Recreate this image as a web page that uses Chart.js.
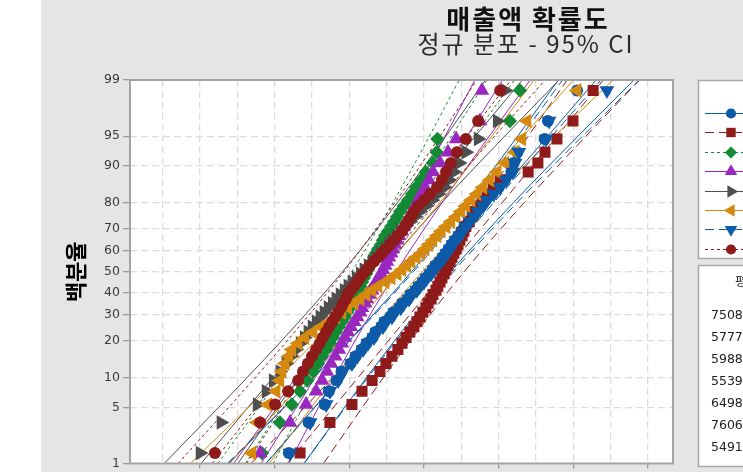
<!DOCTYPE html>
<html>
<head>
<meta charset="utf-8">
<script src="https://cdn.jsdelivr.net/npm/chart.js@4.4.1/dist/chart.umd.min.js"></script>
<style>
  html, body { margin: 0; padding: 0; background: #ffffff; }
  canvas { display: block; }
</style>
</head>
<body>
<canvas id="chart" width="743" height="472"></canvas>
<script>
// ---- data -------------------------------------------------------------
// Median-rank plotting positions (%) for 50 sorted observations
const plotPct = [1.39, 3.37, 5.36, 7.34, 9.33, 11.31, 13.29, 15.28, 17.26, 19.25,
  21.23, 23.21, 25.20, 27.18, 29.17, 31.15, 33.13, 35.12, 37.10, 39.09,
  41.07, 43.06, 45.04, 47.02, 49.01, 50.99, 52.98, 54.96, 56.94, 58.93,
  60.91, 62.90, 64.88, 66.87, 68.85, 70.83, 72.82, 74.80, 76.79, 78.77,
  80.75, 82.74, 84.72, 86.71, 88.69, 90.67, 92.66, 94.64, 96.63, 98.61];

// Sorted sales values for each of the eight groups
const group1 = [4380, 4910, 5340, 5450, 5660, 5790, 6030, 6170, 6330, 6460, 6620, 6700, 6860, 6940, 7100, 7180, 7340, 7420, 7560, 7640, 7770, 7850, 7960, 8040, 8150, 8230, 8310, 8420, 8500, 8580, 8660, 8740, 8820, 8920, 9000, 9080, 9190, 9300, 9410, 9540, 9650, 9830, 10000, 10160, 10340, 10400, 10500, 11230, 11320, 12100];
const group2 = [4680, 5480, 6070, 6340, 6610, 6820, 6980, 7140, 7300, 7410, 7520, 7620, 7730, 7810, 7890, 7970, 8050, 8110, 8190, 8240, 8320, 8370, 8430, 8480, 8540, 8590, 8640, 8700, 8750, 8800, 8860, 8910, 8960, 9020, 9070, 9120, 9210, 9290, 9370, 9450, 9550, 9690, 9850, 10040, 10790, 11050, 11240, 11560, 11990, 12530];
const group3 = [3660, 4140, 4460, 4680, 4870, 5030, 5160, 5270, 5380, 5480, 5560, 5640, 5720, 5800, 5880, 5940, 6020, 6070, 6130, 6180, 6230, 6290, 6340, 6390, 6450, 6500, 6550, 6610, 6660, 6710, 6770, 6850, 6900, 6960, 7040, 7120, 7200, 7280, 7360, 7460, 7570, 7680, 7790, 7920, 8050, 8240, 8340, 8360, 10300, 10570];
const group4 = [3610, 4410, 4840, 5110, 5270, 5400, 5510, 5620, 5720, 5800, 5880, 5960, 6040, 6130, 6210, 6290, 6340, 6420, 6470, 6550, 6610, 6660, 6710, 6790, 6850, 6900, 6960, 7010, 7060, 7120, 7170, 7220, 7280, 7330, 7410, 7460, 7540, 7600, 7680, 7760, 7840, 7920, 8030, 8130, 8240, 8430, 8640, 8860, 9500, 9550];
const group5 = [2000, 2560, 3530, 3770, 3960, 4140, 4300, 4440, 4570, 4680, 4790, 4890, 5000, 5110, 5210, 5320, 5430, 5540, 5640, 5750, 5860, 5960, 6070, 6180, 6290, 6390, 6500, 6610, 6710, 6820, 6930, 7040, 7140, 7250, 7360, 7490, 7620, 7760, 7890, 8050, 8210, 8380, 8540, 8670, 8800, 8940, 9120, 9450, 9960, 10170];
const group6 = [3390, 3530, 3820, 4040, 4140, 4200, 4280, 4380, 4460, 4630, 4810, 5030, 5240, 5480, 5640, 5800, 5960, 6130, 6290, 6450, 6610, 6770, 6960, 7120, 7280, 7410, 7540, 7650, 7790, 7920, 8030, 8130, 8240, 8350, 8460, 8590, 8720, 8860, 8990, 9120, 9260, 9420, 9580, 9770, 9960, 10170, 10440, 10620, 10760, 12100];
const group7 = [4410, 4950, 5380, 5480, 5700, 5830, 6070, 6210, 6370, 6500, 6660, 6740, 6900, 6980, 7140, 7220, 7380, 7460, 7600, 7680, 7810, 7890, 8000, 8080, 8190, 8270, 8350, 8460, 8540, 8620, 8700, 8780, 8860, 8960, 9040, 9120, 9230, 9340, 9450, 9580, 9690, 9870, 10040, 10200, 10380, 10440, 10540, 11270, 11350, 12900];
const group8 = [2400, 3610, 4010, 4360, 4630, 4760, 4890, 5000, 5110, 5210, 5290, 5380, 5460, 5540, 5620, 5700, 5780, 5830, 5910, 5960, 6040, 6130, 6210, 6290, 6370, 6470, 6550, 6660, 6770, 6870, 6980, 7090, 7200, 7300, 7410, 7490, 7570, 7650, 7730, 7840, 8000, 8160, 8350, 8480, 8590, 8720, 8880, 9120, 9450, 10040];

// Fitted normal line: value at 1% and at 99%
const fitAt1 = [3771, 4337, 3217, 3637, 2027, 2795, 3761, 2329];
const fitAt99 = [12609, 12803, 9683, 10103, 10633, 12005, 12739, 10331];

// 95% confidence band, evaluated at these percents
const ciPct = [1, 5, 10, 20, 50, 80, 90, 95, 99];
const ciLow1 = [2758, 4257, 5044, 5978, 7664, 9178, 9915, 10508, 11597];
const ciHigh1 = [4783, 5872, 6465, 7202, 8716, 10402, 11336, 12123, 13622];
const ciLow2 = [3367, 4803, 5556, 6452, 8066, 9516, 10223, 10790, 11833];
const ciHigh2 = [5307, 6350, 6917, 7624, 9074, 10688, 11584, 12337, 13773];
const ciLow3 = [2476, 3573, 4148, 4832, 6065, 7173, 7712, 8146, 8942];
const ciHigh3 = [3958, 4754, 5188, 5727, 6835, 8068, 8752, 9327, 10424];
const ciLow4 = [2896, 3993, 4568, 5252, 6485, 7593, 8132, 8566, 9362];
const ciHigh4 = [4378, 5174, 5608, 6147, 7255, 8488, 9172, 9747, 10844];
const ciLow5 = [1041, 2500, 3266, 4177, 5818, 7292, 8010, 8587, 9647];
const ciHigh5 = [3013, 4073, 4650, 5368, 6842, 8483, 9394, 10160, 11619];
const ciLow6 = [1739, 3301, 4121, 5095, 6852, 8430, 9198, 9816, 10950];
const ciHigh6 = [3850, 4984, 5602, 6370, 7948, 9705, 10679, 11499, 13061];
const ciLow7 = [2732, 4255, 5054, 6003, 7715, 9254, 10002, 10605, 11710];
const ciHigh7 = [4790, 5895, 6498, 7246, 8785, 10497, 11446, 12245, 13768];
const ciLow8 = [1413, 2770, 3482, 4328, 5854, 7224, 7892, 8428, 9414];
const ciHigh8 = [3246, 4232, 4768, 5436, 6806, 8332, 9178, 9890, 11247];

// Axis ticks
const yTicks = [1, 5, 10, 20, 30, 40, 50, 60, 70, 80, 90, 95, 99];
const xGrid = [1000, 2000, 3000, 4000, 5000, 6000, 7000, 8000, 9000, 10000, 11000, 12000, 13000, 14000];

// Summary table column (mean)
const tableHeader = '평균';
const tableMeans = ['7508', '5777', '5988', '5539', '6498', '7606', '5491'];

const titleText = '매출액 확률도';
const subtitleText = '정규 분포 - 95% CI';
const yTitleText = '백분율';

// ---- styles -------------------------------------------------------------
const BLUE = '#0d5aa8', RED = '#8e1a1a', GREEN = '#138a34', PURPLE = '#9a27bf',
      GRAY = '#4f4f4f', ORANGE = '#d68a0d';
const LONG = [9, 5], SHORT = [3, 3];
const groupStyle = [
  { color: BLUE,   pointStyle: 'circle',   rotation: 0,   radius: 6,   dash: [] },
  { color: RED,    pointStyle: 'rect',     rotation: 0,   radius: 7.8, dash: LONG },
  { color: GREEN,  pointStyle: 'rectRot',  rotation: 0,   radius: 7.2, dash: SHORT },
  { color: PURPLE, pointStyle: 'triangle', rotation: 0,   radius: 8.5, dash: [] },
  { color: GRAY,   pointStyle: 'triangle', rotation: 90,  radius: 8.5, dash: [] },
  { color: ORANGE, pointStyle: 'triangle', rotation: 270, radius: 8.5, dash: [] },
  { color: BLUE,   pointStyle: 'triangle', rotation: 180, radius: 8.5, dash: LONG },
  { color: RED,    pointStyle: 'circle',   rotation: 0,   radius: 6,   dash: SHORT }
];
const groups = [group1, group2, group3, group4, group5, group6, group7, group8];
const ciLows = [ciLow1, ciLow2, ciLow3, ciLow4, ciLow5, ciLow6, ciLow7, ciLow8];
const ciHighs = [ciHigh1, ciHigh2, ciHigh3, ciHigh4, ciHigh5, ciHigh6, ciHigh7, ciHigh8];

// ---- normal-probability scale ------------------------------------------
function probit(p) {
  const a = [-3.969683028665376e+01, 2.209460984245205e+02, -2.759285104469687e+02,
             1.383577518672690e+02, -3.066479806614716e+01, 2.506628277459239e+00];
  const b = [-5.447609879822406e+01, 1.615858368580409e+02, -1.556989798598866e+02,
             6.680131188771972e+01, -1.328068155288572e+01];
  const c = [-7.784894002430293e-03, -3.223964580411365e-01, -2.400758277161838e+00,
             -2.549732539343734e+00, 4.374664141464968e+00, 2.938163982698783e+00];
  const d = [7.784695709041462e-03, 3.224671290700398e-01, 2.445134137142996e+00,
             3.754408661907416e+00];
  const pl = 0.02425;
  if (p < pl) {
    const q = Math.sqrt(-2 * Math.log(p));
    return (((((c[0]*q + c[1])*q + c[2])*q + c[3])*q + c[4])*q + c[5]) /
           ((((d[0]*q + d[1])*q + d[2])*q + d[3])*q + 1);
  }
  if (p > 1 - pl) {
    const q = Math.sqrt(-2 * Math.log(1 - p));
    return -(((((c[0]*q + c[1])*q + c[2])*q + c[3])*q + c[4])*q + c[5]) /
            ((((d[0]*q + d[1])*q + d[2])*q + d[3])*q + 1);
  }
  const q = p - 0.5, r = q * q;
  return (((((a[0]*r + a[1])*r + a[2])*r + a[3])*r + a[4])*r + a[5]) * q /
         (((((b[0]*r + b[1])*r + b[2])*r + b[3])*r + b[4])*r + 1);
}

class ProbabilityScale extends Chart.Scale {
  determineDataLimits() {
    this.min = this.options.min;
    this.max = this.options.max;
  }
  buildTicks() {
    return yTicks.map(v => ({ value: v }));
  }
  getLabelForValue(v) { return String(v); }
  configure() {
    super.configure();
    this._zLo = probit(this.min / 100);
    this._zHi = probit(this.max / 100);
  }
  getPixelForValue(v) {
    const z = probit(v / 100);
    return this.getPixelForDecimal((z - this._zLo) / (this._zHi - this._zLo));
  }
  getValueForPixel(px) {
    const target = this._zLo + this.getDecimalForPixel(px) * (this._zHi - this._zLo);
    let lo = 0.0001, hi = 0.9999;
    for (let i = 0; i < 50; i++) {
      const mid = (lo + hi) / 2;
      if (probit(mid) < target) lo = mid; else hi = mid;
    }
    return 100 * (lo + hi) / 2;
  }
}
ProbabilityScale.id = 'probability';
ProbabilityScale.defaults = {};
Chart.register(ProbabilityScale);

// ---- datasets -----------------------------------------------------------
const datasets = [];
groups.forEach((vals, k) => {
  const st = groupStyle[k];
  datasets.push({
    data: vals.map((v, i) => ({ x: v, y: plotPct[i] })),
    showLine: false,
    pointStyle: st.pointStyle,
    pointRotation: st.rotation,
    pointRadius: st.radius,
    pointBackgroundColor: st.color,
    pointBorderColor: st.color,
    pointBorderWidth: 0,
    order: 20 - k
  });
  const lineBase = {
    showLine: true, pointRadius: 0, borderColor: st.color, borderWidth: 1,
    borderDash: st.dash, order: 40 - k
  };
  datasets.push(Object.assign({}, lineBase, {
    data: [{ x: fitAt1[k], y: 1 }, { x: fitAt99[k], y: 99 }]
  }));
  datasets.push(Object.assign({}, lineBase, {
    data: ciPct.map((p, i) => ({ x: ciLows[k][i], y: p })),
    cubicInterpolationMode: 'monotone'
  }));
  datasets.push(Object.assign({}, lineBase, {
    data: ciPct.map((p, i) => ({ x: ciHighs[k][i], y: p })),
    cubicInterpolationMode: 'monotone'
  }));
});

// ---- page furniture: background, frame, titles, legend, table ------------
const furniture = {
  id: 'furniture',
  beforeDraw(chart) {
    const { ctx, chartArea: a } = chart;
    ctx.save();
    ctx.fillStyle = '#ffffff';
    ctx.fillRect(0, 0, chart.width, chart.height);
    ctx.fillStyle = '#e5e5e5';
    ctx.fillRect(41, 0, chart.width - 41, chart.height);
    ctx.fillStyle = '#ffffff';
    ctx.fillRect(a.left, a.top, a.right - a.left, a.bottom - a.top);
    ctx.restore();
  },
  afterDraw(chart) {
    const { ctx, chartArea: a } = chart;
    ctx.save();
    // plot frame
    ctx.strokeStyle = '#a3a3a3';
    ctx.lineWidth = 2;
    ctx.strokeRect(a.left, a.top, a.right - a.left, a.bottom - a.top);

    // titles
    ctx.textAlign = 'center';
    ctx.textBaseline = 'middle';
    ctx.fillStyle = '#111111';
    ctx.font = 'bold 26px "Noto Sans CJK KR"';
    ctx.letterSpacing = '2px';
    ctx.fillText(titleText, 528, 19);
    ctx.fillStyle = '#2a2a2a';
    ctx.font = '24px "Noto Sans CJK KR"';
    ctx.letterSpacing = '2px';
    ctx.fillText(subtitleText, 526, 44);
    ctx.letterSpacing = '0px';

    // legend panel
    ctx.fillStyle = '#ffffff';
    ctx.strokeStyle = '#a8a8a8';
    ctx.lineWidth = 1.5;
    ctx.fillRect(698.5, 80.5, 60, 178);
    ctx.strokeRect(698.5, 80.5, 60, 178);
    groupStyle.forEach((st, k) => {
      const y = Math.round(113 + k * 19.4) + 0.5;
      ctx.strokeStyle = st.color;
      ctx.lineWidth = 1;
      ctx.setLineDash(st.dash);
      ctx.beginPath();
      ctx.moveTo(705, y);
      ctx.lineTo(745, y);
      ctx.stroke();
      ctx.setLineDash([]);
      ctx.fillStyle = st.color;
      Chart.helpers.drawPoint(ctx, {
        pointStyle: st.pointStyle, rotation: st.rotation,
        radius: st.radius * 0.85, borderWidth: 0
      }, 731, y);
    });

    // summary table panel
    ctx.fillStyle = '#ffffff';
    ctx.strokeStyle = '#a8a8a8';
    ctx.lineWidth = 1.5;
    ctx.fillRect(698.5, 265.5, 60, 201);
    ctx.strokeRect(698.5, 265.5, 60, 201);
    ctx.textAlign = 'left';
    ctx.textBaseline = 'middle';
    ctx.fillStyle = '#222222';
    ctx.font = '12.5px "Noto Sans CJK KR"';
    ctx.fillText(tableHeader, 735, 281);
    ctx.font = '12.5px "DejaVu Sans"';
    tableMeans.forEach((t, i) => ctx.fillText(t, 711, 316 + i * 22));
    ctx.restore();
  }
};

const gridDash = [7, 4];
new Chart(document.getElementById('chart'), {
  type: 'scatter',
  data: { datasets },
  plugins: [furniture],
  options: {
    responsive: false,
    animation: false,
    devicePixelRatio: 1,
    events: [],
    layout: { padding: { left: 41, top: 80, right: 70, bottom: 0 } },
    plugins: { legend: { display: false }, tooltip: { enabled: false } },
    scales: {
      x: {
        type: 'linear',
        min: 125,
        max: 14669,
        afterBuildTicks: s => { s.ticks = xGrid.map(v => ({ value: v })); },
        afterFit: s => { s.height = 5; s.paddingLeft = 0; s.paddingRight = 0; },
        ticks: { display: false },
        grid: {
          color: '#dcdcdc', lineWidth: 1.3, drawTicks: true, tickLength: 5,
          tickWidth: 1.3, tickBorderDash: [],
          tickColor: c => (c.tick && c.tick.value % 2000 === 0) ? '#9a9a9a' : 'rgba(0,0,0,0)'
        },
        border: { display: false, dash: gridDash }
      },
      y: {
        type: 'probability',
        position: 'left',
        min: 1,
        max: 99,
        afterFit: s => { s.width = 89; s.paddingTop = 0; s.paddingBottom = 0; },
        ticks: {
          autoSkip: false, padding: 3, color: '#3a3a3a',
          font: { family: 'DejaVu Sans', size: 12.5 }
        },
        grid: {
          color: '#dcdcdc', lineWidth: 1.3, drawTicks: true, tickLength: 7,
          tickWidth: 1.3, tickColor: '#9a9a9a', tickBorderDash: []
        },
        border: { display: false, dash: gridDash },
        title: {
          display: true, text: yTitleText, color: '#000000',
          font: { family: 'Noto Sans CJK KR', size: 22, weight: 'bold' },
          padding: { top: 21, bottom: 0 }
        }
      }
    }
  }
});
</script>
</body>
</html>
